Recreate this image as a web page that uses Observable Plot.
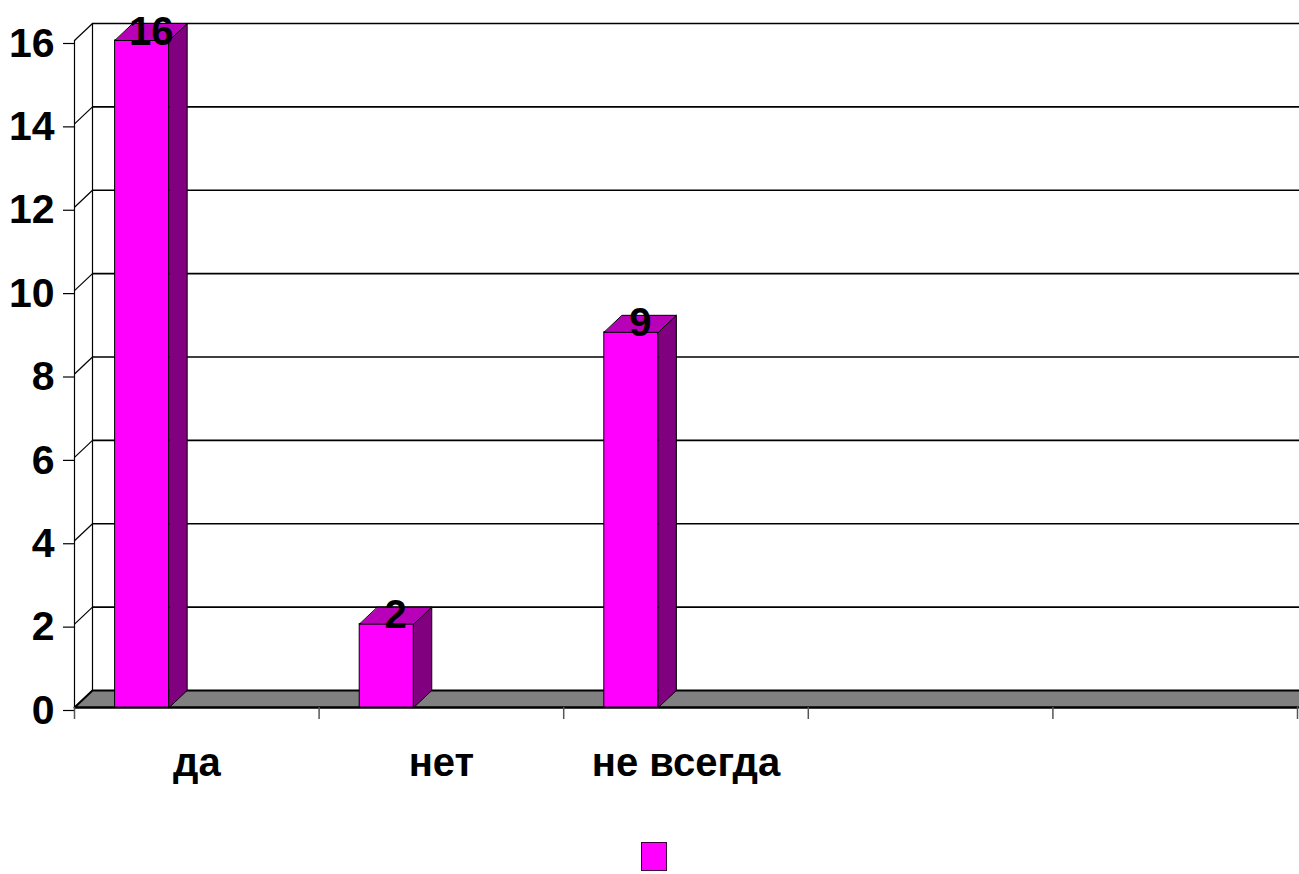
<!DOCTYPE html>
<html>
<head>
<meta charset="utf-8">
<script src="https://cdn.jsdelivr.net/npm/d3@7"></script>
<script src="https://cdn.jsdelivr.net/npm/@observablehq/plot@0.6"></script>
<style>
  body { margin: 0; background: #fff; font-family: "Liberation Sans", Arial, sans-serif; }
  #legend { position: relative; height: 54px; }
  #legend .sw { position: absolute; left: 641px; top: 22px; width: 24px; height: 27px; background: #ff00ff; border: 1.5px solid #3a003a; }
</style>
</head>
<body>
<div id="chart"></div>
<div id="legend"><div class="sw"></div></div>
<script>
const categories = ["да", "нет", "не всегда", "", ""];
const values = [16, 2, 9];
const yTicks = [0, 2, 4, 6, 8, 10, 12, 14, 16];

const W = 1299, H = 820;
const mL = 74, mR = 2, mT = 40, mB = H - 707;
const nCat = categories.length;
const pxPerX = (W - mL - mR) / nCat;
const pxPerY = (H - mT - mB) / 16;
const DX = 18 / pxPerX, DY = 17 / pxPerY;   // 3D depth in data units
const b0 = 0.166, b1 = 0.387;               // bar front inside the band

const bars = values.map((v, i) => ({i, v, x1: i + b0, x2: i + b1}));
const floor = [[0, 0], [nCat + 0.2, 0], [nCat + 0.2 + DX, DY], [DX, DY]].map(([x, y]) => ({x, y}));
const sides = bars.flatMap(b => [
  {id: b.i, x: b.x2, y: 0}, {id: b.i, x: b.x2 + DX, y: DY},
  {id: b.i, x: b.x2 + DX, y: b.v + DY}, {id: b.i, x: b.x2, y: b.v}]);
const tops = bars.flatMap(b => [
  {id: b.i, x: b.x1, y: b.v}, {id: b.i, x: b.x2, y: b.v},
  {id: b.i, x: b.x2 + DX, y: b.v + DY}, {id: b.i, x: b.x1 + DX, y: b.v + DY}]);

const font = "'Liberation Sans', Arial, sans-serif";

const plot = Plot.plot({
  width: W, height: H,
  marginLeft: mL, marginRight: mR, marginTop: mT, marginBottom: mB,
  style: {fontFamily: font, background: "#fff", overflow: "visible"},
  x: {domain: [0, nCat], axis: null},
  y: {domain: [0, 16], axis: null},
  marks: [
    // back grid lines
    Plot.ruleY(yTicks.filter(d => d > 0), {x1: DX, x2: nCat + 0.3, dy: -17, stroke: "#000", strokeWidth: 1.6}),
    // left wall
    Plot.ruleX([DX], {y1: DY, y2: 16 + DY, stroke: "#000", strokeWidth: 1.2}),
    Plot.link(yTicks, {x1: 0, y1: d => d, x2: DX, y2: d => d + DY, stroke: "#000", strokeWidth: 1.2}),
    // floor
    Plot.line(floor, {x: "x", y: "y", curve: "linear-closed", fill: "#808080", stroke: "#000", strokeWidth: 2}),
    // front axis line + ticks
    Plot.ruleX([0], {y1: 0, y2: 16, stroke: "#000", strokeWidth: 1.2}),
    Plot.ruleY([0], {x1: 0, x2: nCat, stroke: "#000", strokeWidth: 2}),
    Plot.axisY(yTicks, {tickSize: 11, tickPadding: 9, fontSize: 41, fontWeight: "bold", fill: "#000", stroke: "#000", strokeWidth: 1.2, tickFormat: d => d, dy: 3}),
    Plot.axisX(d3.range(nCat + 1), {tickSize: 12, tickFormat: () => "", stroke: "#555", strokeWidth: 1.5}),
    Plot.text(categories.map((c, i) => ({c, i})), {x: d => d.i + 0.5, y: 0, text: "c", dy: 56, fontSize: 40, fontWeight: "bold", fill: "#000", textAnchor: "middle"}),
    // bars
    Plot.rect(bars, {x1: "x1", x2: "x2", y1: 0, y2: "v", fill: "#ff00ff", stroke: "#000", strokeWidth: 1}),
    Plot.line(sides, {x: "x", y: "y", z: "id", curve: "linear-closed", fill: "#800080", stroke: "#000", strokeWidth: 1}),
    Plot.line(tops, {x: "x", y: "y", z: "id", curve: "linear-closed", fill: "#b800b8", stroke: "#000", strokeWidth: 1}),
    // value labels
    Plot.text(bars, {x: d => (d.x1 + d.x2 + DX) / 2, y: "v", text: d => String(d.v), lineAnchor: "bottom", dy: 4, fontSize: 40, fontWeight: "bold", fill: "#000"})
  ]
});
document.getElementById("chart").appendChild(plot);
</script>
</body>
</html>
